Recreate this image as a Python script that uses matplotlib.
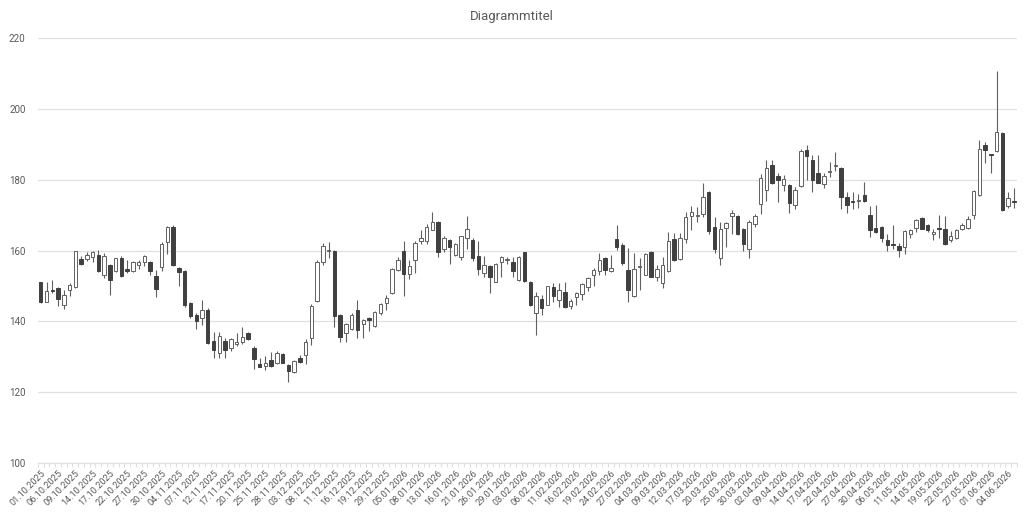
import numpy as np
import pandas as pd
import matplotlib
matplotlib.use("Agg")
import matplotlib.pyplot as plt
from matplotlib import font_manager

# trading days (Xetra holidays removed)
holidays = ["2025-12-24", "2025-12-25", "2025-12-26", "2025-12-31", "2026-01-01",
            "2026-04-03", "2026-04-06", "2026-05-01"]
dates = pd.bdate_range("2025-10-01", "2026-06-05")
dates = dates[~dates.isin(pd.to_datetime(holidays))]

opens = [151.0, 145.6, 149.0, 149.4, 144.7, 148.9, 149.8, 157.5, 157.6, 158.3,
         158.8, 153.2, 156.0, 154.2, 157.8, 154.7, 154.2, 156.0, 156.8, 156.7,
         152.9, 155.3, 162.4, 166.6, 155.1, 154.3, 145.2, 141.8, 141.1, 143.3,
         134.5, 131.2, 134.5, 132.6, 133.6, 134.1, 136.6, 132.6, 127.9, 127.4,
         129.0, 128.4, 130.8, 127.7, 125.8, 129.8, 130.5, 135.2, 145.8, 156.9,
         159.8, 160.0, 141.9, 136.6, 137.8, 143.3, 139.2, 140.9, 138.8, 142.5,
         145.1, 147.9, 154.6, 160.0, 153.4, 157.4, 162.8, 162.8, 165.9, 168.0,
         160.5, 163.1, 158.8, 158.1, 163.6, 163.1, 158.6, 153.6, 155.6, 151.2,
         156.7, 157.3, 156.9, 151.7, 159.5, 151.0, 142.5, 146.3, 144.7, 149.8,
         146.1, 148.2, 144.4, 146.8, 147.7, 149.6, 153.2, 154.2, 157.8, 154.2,
         163.3, 161.7, 154.5, 147.3, 155.4, 153.2, 159.7, 152.5, 150.8, 154.3,
         163.3, 157.6, 163.3, 169.7, 169.8, 170.2, 176.6, 166.6, 157.8, 166.4,
         169.8, 169.8, 166.0, 160.5, 167.6, 173.1, 177.0, 184.1, 181.0, 178.4,
         178.6, 172.8, 178.3, 188.4, 185.5, 182.0, 178.7, 182.3, 184.0, 183.2,
         175.0, 173.9, 174.0, 175.6, 170.0, 166.4, 166.6, 163.0, 161.8, 161.4,
         161.0, 164.7, 166.4, 169.2, 167.3, 164.6, 166.1, 166.0, 163.1, 163.6,
         166.2, 166.4, 170.1, 175.8, 189.8, 187.3, 188.1, 193.3, 172.6, 173.9]
highs = [151.2, 151.2, 151.8, 149.8, 148.9, 150.8, 160.0, 158.5, 159.5, 159.9,
         160.3, 159.3, 156.2, 158.0, 158.4, 157.2, 157.0, 157.3, 158.7, 157.0,
         154.6, 162.4, 166.8, 167.1, 155.3, 154.5, 145.4, 142.5, 146.1, 143.8,
         137.1, 136.9, 135.3, 135.2, 136.6, 138.3, 137.1, 133.1, 129.8, 130.3,
         131.4, 131.7, 131.0, 128.0, 129.2, 130.6, 135.0, 144.8, 157.2, 162.1,
         162.5, 160.3, 142.2, 139.6, 142.3, 146.1, 140.8, 141.2, 143.0, 145.2,
         147.5, 155.0, 158.3, 162.8, 157.4, 162.8, 165.9, 167.4, 170.8, 168.4,
         164.0, 163.4, 162.2, 164.2, 169.7, 163.5, 162.6, 158.4, 155.8, 156.5,
         158.6, 158.3, 158.3, 158.6, 159.7, 151.3, 148.2, 147.5, 150.1, 150.8,
         150.8, 151.0, 146.3, 148.2, 150.9, 152.5, 155.0, 159.3, 158.1, 158.8,
         167.3, 162.0, 160.7, 159.3, 157.9, 159.4, 160.0, 155.8, 158.3, 165.2,
         164.9, 164.9, 171.0, 172.5, 172.3, 179.2, 176.9, 169.5, 168.0, 168.2,
         171.4, 170.1, 166.3, 168.5, 170.2, 181.5, 185.5, 185.5, 182.0, 181.3,
         178.9, 178.0, 188.8, 189.8, 187.0, 187.0, 182.0, 184.9, 187.7, 183.5,
         176.4, 176.4, 176.1, 179.4, 172.6, 172.8, 167.0, 164.7, 167.1, 162.2,
         165.8, 166.2, 168.8, 169.5, 167.6, 166.2, 170.1, 169.9, 165.5, 166.2,
         167.8, 169.7, 177.0, 191.2, 190.7, 187.4, 210.6, 193.6, 176.6, 177.7]
lows = [145.3, 145.4, 147.9, 144.3, 143.4, 147.3, 149.5, 155.8, 157.0, 156.9,
        154.0, 152.3, 147.5, 154.0, 152.6, 153.8, 154.0, 154.8, 155.7, 153.2,
        146.8, 154.3, 158.9, 155.6, 150.1, 144.0, 141.1, 138.0, 139.0, 133.7,
        129.6, 129.6, 129.6, 131.7, 133.1, 133.6, 134.8, 126.5, 127.0, 126.4,
        127.2, 127.9, 128.2, 123.0, 125.4, 128.4, 127.9, 133.4, 145.4, 155.8,
        157.9, 138.5, 134.2, 134.1, 137.5, 135.3, 135.2, 137.4, 138.5, 141.8,
        143.2, 147.6, 154.3, 147.1, 152.0, 153.6, 161.9, 161.9, 165.7, 158.3,
        159.5, 156.2, 158.5, 157.2, 160.5, 157.0, 153.2, 152.6, 148.0, 151.0,
        152.5, 156.2, 152.6, 151.5, 151.1, 144.4, 136.1, 141.9, 144.5, 145.6,
        144.2, 143.8, 143.5, 144.7, 146.1, 148.5, 150.1, 153.2, 153.2, 154.0,
        160.2, 155.8, 145.4, 146.8, 148.9, 153.0, 152.4, 151.5, 149.3, 154.0,
        157.0, 157.3, 162.1, 165.7, 168.0, 169.5, 164.6, 159.4, 156.0, 161.0,
        164.7, 164.4, 160.0, 157.8, 166.6, 170.4, 174.0, 178.9, 173.7, 176.7,
        170.7, 171.6, 178.0, 179.9, 176.4, 179.0, 177.8, 180.8, 182.5, 171.8,
        170.6, 171.8, 172.0, 173.7, 163.8, 165.0, 162.4, 160.0, 160.5, 158.1,
        158.9, 163.5, 165.2, 166.0, 165.2, 163.0, 163.5, 161.7, 162.4, 163.4,
        165.9, 166.2, 168.8, 175.5, 184.8, 181.9, 187.9, 171.2, 172.0, 172.0]
closes = [145.5, 148.5, 148.5, 146.3, 147.5, 150.3, 159.8, 156.2, 158.8, 159.7,
          154.1, 158.6, 151.8, 157.8, 152.8, 154.2, 156.9, 156.9, 158.5, 154.2,
          149.2, 161.9, 166.6, 156.0, 153.9, 144.7, 141.6, 140.2, 143.2, 133.9,
          131.9, 136.0, 132.0, 135.0, 134.3, 135.5, 135.0, 129.3, 127.2, 128.4,
          127.4, 131.2, 128.4, 126.0, 128.9, 128.6, 134.3, 144.4, 156.7, 161.2,
          160.3, 141.6, 135.7, 139.2, 141.9, 137.5, 140.4, 140.3, 142.7, 144.9,
          146.6, 154.8, 157.2, 153.4, 155.6, 162.1, 163.5, 166.6, 168.2, 159.5,
          163.5, 160.9, 161.9, 164.0, 166.1, 157.8, 154.8, 155.8, 152.5, 156.2,
          158.3, 157.4, 154.3, 158.3, 151.3, 144.6, 147.3, 143.8, 149.9, 147.3,
          148.9, 144.0, 145.8, 147.9, 150.6, 152.2, 154.6, 157.2, 154.6, 155.0,
          160.9, 156.4, 148.9, 154.8, 155.6, 159.1, 152.6, 154.8, 155.8, 162.8,
          157.2, 163.5, 169.4, 170.8, 169.9, 175.1, 165.5, 160.5, 166.2, 167.8,
          170.6, 164.7, 161.9, 168.2, 169.9, 180.6, 183.2, 179.1, 179.9, 180.3,
          173.3, 177.0, 188.1, 186.8, 179.9, 179.2, 181.0, 182.5, 184.2, 175.1,
          173.0, 173.7, 174.3, 173.9, 165.7, 165.2, 163.5, 161.7, 161.6, 160.2,
          165.4, 165.7, 168.5, 166.2, 165.7, 165.2, 166.0, 161.9, 164.1, 165.9,
          167.3, 168.8, 176.7, 188.8, 188.4, 187.1, 193.6, 171.4, 174.9, 173.7]

labels = [d.strftime("%d.%m.%Y") for d in dates]

names = {f.name for f in font_manager.fontManager.ttflist}
fam = "Liberation Sans Narrow" if "Liberation Sans Narrow" in names else "Roboto"
plt.rcParams["font.family"] = [fam, "DejaVu Sans"]

txt = "#595959"
grid = "#e0e0e0"
up_edge = "#606060"
down_col = "#404040"

fig = plt.figure(figsize=(10.24, 5.14), dpi=100)
ax = fig.add_axes([0.037, 0.099, 0.956, 0.827])

o = np.array(opens)
h = np.array(highs)
l = np.array(lows)
c = np.array(closes)
x = np.arange(len(o))

ax.vlines(x, l, h, color=up_edge, linewidth=0.8, zorder=2)
bottom = np.minimum(o, c)
height = np.maximum(np.abs(c - o), 0.25)
up = c >= o
ax.bar(x[up], height[up], bottom=bottom[up], width=0.6, color="white",
       edgecolor=up_edge, linewidth=0.7, zorder=3)
ax.bar(x[~up], height[~up], bottom=bottom[~up], width=0.6, color=down_col,
       edgecolor=down_col, linewidth=0.7, zorder=3)

ax.set_xlim(-0.5, len(o) - 0.5)
ax.set_ylim(100, 220)
ax.set_yticks(np.arange(100, 221, 20))
ax.grid(axis="y", color=grid, linewidth=0.9, zorder=0)
ax.set_axisbelow(True)

ax.set_xticks(x[::3])
ax.set_xticklabels(labels[::3], rotation=45, ha="right", rotation_mode="anchor",
                   fontsize=6.6, color=txt)
ax.set_xticks(np.arange(-0.5, len(o)), minor=True)
ax.tick_params(axis="x", which="major", length=0, pad=4)
ax.tick_params(axis="x", which="minor", length=3, color=grid, width=0.8)
ax.tick_params(axis="y", length=0, pad=9, labelsize=7, labelcolor=txt)

for s in ["top", "right", "left"]:
    ax.spines[s].set_visible(False)
ax.spines["bottom"].set_color(grid)
ax.spines["bottom"].set_linewidth(0.9)

fig.text(0.5, 0.968, "Diagrammtitel", ha="center", va="center",
         fontsize=9.5, color=txt)

fig.savefig("out.png", dpi=100)
